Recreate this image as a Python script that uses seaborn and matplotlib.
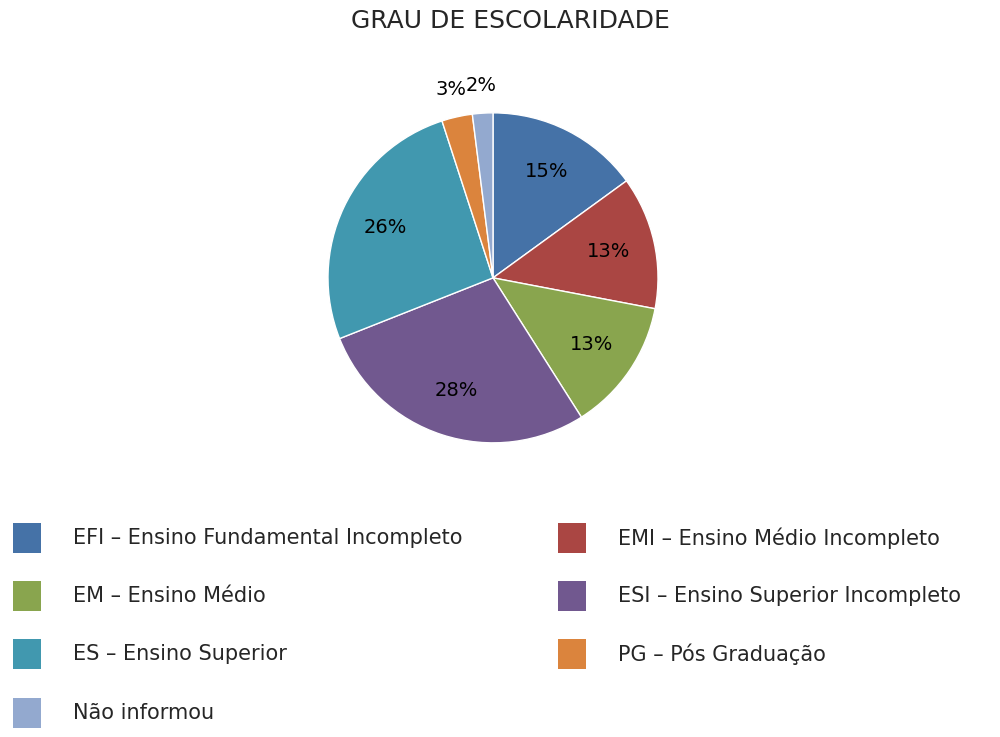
import matplotlib
matplotlib.use("Agg")
import matplotlib.pyplot as plt
import seaborn as sns
import numpy as np
from matplotlib.patches import Rectangle

sns.set_theme(style="white")
plt.rcParams['font.family'] = ['DejaVu Sans']

labels = ["EFI – Ensino Fundamental Incompleto", "EMI – Ensino Médio Incompleto",
          "EM – Ensino Médio", "ESI – Ensino Superior Incompleto",
          "ES – Ensino Superior", "PG – Pós Graduação", "Não informou"]
values = [15, 13, 13, 28, 26, 3, 2]
colors = ["#4572A7", "#AA4643", "#89A54E", "#71588F", "#4198AF", "#DB843D", "#93A9CF"]

fig = plt.figure(figsize=(10, 7.37), dpi=100)
ax = fig.add_axes([0.328, 0.399, 0.33, 0.448])
wedges, _ = ax.pie(values, colors=colors, startangle=90, counterclock=False,
                   wedgeprops=dict(edgecolor="white", linewidth=1))
ax.set_aspect("equal")
ax.set_xlim(-1, 1); ax.set_ylim(-1, 1)
for w, v in zip(wedges, values):
    ang = np.deg2rad((w.theta1 + w.theta2) / 2)
    r = 0.72 if v >= 5 else 1.17
    ax.text(r * np.cos(ang), r * np.sin(ang), f"{v}%", ha="center", va="center",
            fontsize=14, color="black")
fig.text(0.51, 0.972, "GRAU DE ESCOLARIDADE", ha="center", va="center", fontsize=18)

# legend: two columns
order = [(0, 0), (1, 1), (2, 0), (3, 1), (4, 0), (5, 1), (6, 0)]
rows_y = [538, 596, 654, 713]
for i, (idx, col) in enumerate(zip(range(7), [0, 1, 0, 1, 0, 1, 0])):
    row = i // 2
    y = rows_y[row]
    xs = 13 if col == 0 else 558
    xt = 73 if col == 0 else 618
    fig.patches.append(Rectangle((xs / 1000, 1 - (y + 15) / 737), 28 / 1000, 30 / 737,
                                 transform=fig.transFigure, facecolor=colors[idx],
                                 edgecolor="none"))
    fig.text(xt / 1000, 1 - y / 737, labels[idx], ha="left", va="center", fontsize=15)

fig.savefig("out.png", dpi=100, facecolor="white")
